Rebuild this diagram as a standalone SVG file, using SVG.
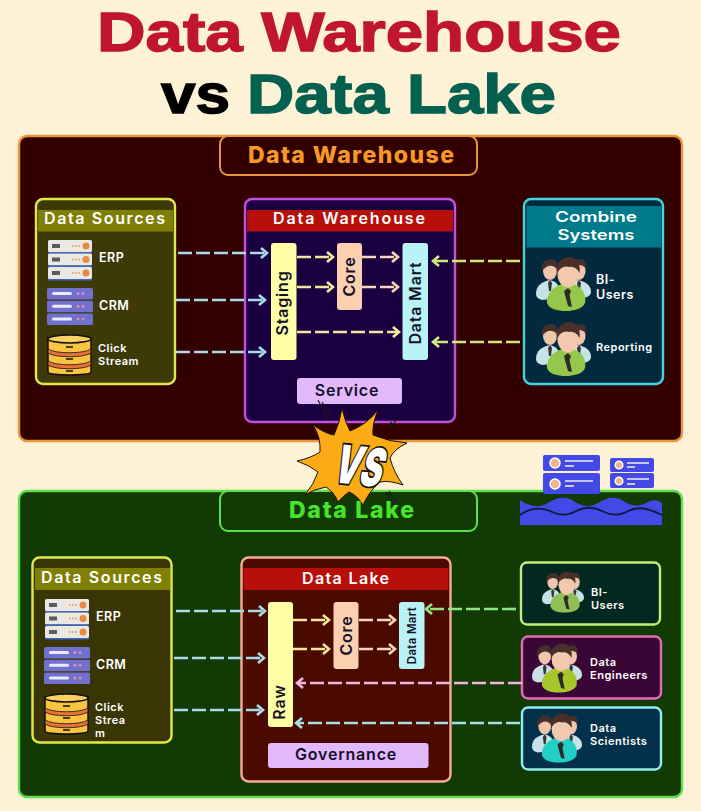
<svg xmlns="http://www.w3.org/2000/svg" width="701" height="811" viewBox="0 0 701 811">
<style>
text{font-family:"Inter","Liberation Sans",sans-serif;font-weight:600;fill:#fff}
.mid{text-anchor:middle}
.h{font-size:16px;letter-spacing:1px}
.h2{font-size:14.500px}
.sm{font-size:12.500px;letter-spacing:.5px}
.xs{font-size:11px;letter-spacing:.5px}
.dark{fill:#15102a;font-size:16px;letter-spacing:.8px}
.panelT{font-size:23px;font-weight:800}
.big{font-family:"Liberation Sans",Arial,sans-serif;font-size:55.500px;font-weight:700;stroke-width:1.400}
.c{fill:none;stroke-width:2.700;stroke-dasharray:14 4}
.star{fill:#fbab14;stroke:#1c1205;stroke-width:1}
.vs{font-size:52px;font-weight:900;fill:#fff;stroke:#111;stroke-width:3.500;paint-order:stroke}
.tip{fill:none;stroke-width:2.700}
</style>
<defs>
<marker id="mBlue" markerUnits="userSpaceOnUse" markerWidth="12" markerHeight="14" refX="10" refY="7" orient="auto"><path class="tip" d="M4 2L10 7L4 12" stroke="#a9dbe9"/></marker>
<marker id="mYel" markerUnits="userSpaceOnUse" markerWidth="12" markerHeight="14" refX="10" refY="7" orient="auto"><path class="tip" d="M4 2L10 7L4 12" stroke="#f6e79e"/></marker>
<marker id="mPea" markerUnits="userSpaceOnUse" markerWidth="12" markerHeight="14" refX="10" refY="7" orient="auto"><path class="tip" d="M4 2L10 7L4 12" stroke="#f8d6bb"/></marker>
<marker id="mGrn" markerUnits="userSpaceOnUse" markerWidth="12" markerHeight="14" refX="10" refY="7" orient="auto"><path class="tip" d="M4 2L10 7L4 12" stroke="#cfea7c"/></marker>
<marker id="mLime" markerUnits="userSpaceOnUse" markerWidth="12" markerHeight="14" refX="10" refY="7" orient="auto"><path class="tip" d="M4 2L10 7L4 12" stroke="#8fe683"/></marker>
<marker id="mPink" markerUnits="userSpaceOnUse" markerWidth="12" markerHeight="14" refX="10" refY="7" orient="auto"><path class="tip" d="M4 2L10 7L4 12" stroke="#eeb6dc"/></marker>
<marker id="mAqua" markerUnits="userSpaceOnUse" markerWidth="12" markerHeight="14" refX="10" refY="7" orient="auto"><path class="tip" d="M4 2L10 7L4 12" stroke="#a8e0e2"/></marker>
<symbol id="erp" viewBox="0 0 44 39" overflow="visible">
<g id="erpRow"><rect width="44" height="12" rx="1.500" fill="#e9e8e4"/><rect x="4" y="4" width="8" height="4" fill="#5b5b60"/><circle cx="38" cy="6" r="3.500" fill="#e98a3c"/><path d="M24 6h8" stroke="#e98a3c" stroke-width="1.500" stroke-dasharray="1.500 1.500"/><rect y="12" width="44" height="1.500" fill="#3a66c8"/></g>
<use href="#erpRow" y="13.500"/><use href="#erpRow" y="27"/>
</symbol>
<symbol id="crm" viewBox="0 0 46 37" overflow="visible">
<g id="crmRow"><rect width="46" height="11.500" rx="1.500" fill="#7070cf"/><rect x="5" y="4" width="20" height="3" rx="1.500" fill="#ecebff"/><circle cx="31" cy="5.500" r="1.500" fill="#d98fb0"/><circle cx="36" cy="5.500" r="1.500" fill="#d98fb0"/></g>
<use href="#crmRow" y="12.800"/><use href="#crmRow" y="25.600"/>
</symbol>
<symbol id="stack" viewBox="0 0 45 42" overflow="visible">
<path d="M1 4V38C1 42 44 42 44 38V4Z" fill="#fac440" stroke="#111" stroke-width="1.500"/>
<ellipse cx="22.500" cy="5" rx="21.500" ry="4" fill="#fad060" stroke="#111" stroke-width="1.500"/>
<path d="M1 15C8 20 37 20 44 15V19C37 24 8 24 1 19ZM1 27C8 32 37 32 44 27V31C37 36 8 36 1 31Z" fill="#e8713a" stroke="#111" stroke-width=".8"/>
<path d="M19 13h7M19 25h7M19 37h7" stroke="#111" stroke-width="1.500"/>
</symbol>
<symbol id="people" viewBox="0 0 55 54" overflow="visible">
<path d="M0 37C0 29 5 25 14 23C22 25 25 30 24 41L6 43C2 42 0 40 0 37Z" fill="#c6e2e6"/>
<ellipse cx="14" cy="14" rx="7" ry="9" fill="#efc6ac"/><path d="M6 14C4 4 12 2 15 2C21 2 23 8 21 12C16 7 11 8 6 14Z" fill="#43302b"/>
<path d="M14 23l2 3l-1 8h-2l-1-8Z" fill="#3b3330"/>
<path d="M55 35C55 28 50 25 42 23C36 25 32 30 33 41L48 41C52 40 55 38 55 35Z" fill="#c6e2e6"/>
<ellipse cx="43" cy="14" rx="6.500" ry="9" fill="#efc6ac"/><path d="M36 12C34 4 40 2 44 2C50 2 51 8 50 11C45 7 40 7 36 12Z" fill="#43302b"/>
<path d="M43 23l2 3l-1 7h-2l-1-7Z" fill="#3b3330"/>
<path d="M11 46C10 35 20 27 32 26C44 27 51 36 49 46C47 52 37 54 30 54C21 54 13 52 11 46Z" fill="currentColor"/>
<ellipse cx="32" cy="17" rx="10.500" ry="13.500" fill="#f3c9ae"/>
<path d="M21 17C19 5 27 0 33 0C41 0 45 7 43.500 16C41 11 37 9 33 10C29 8 23 11 21 17Z" fill="#4a3029"/>
<path d="M32 31l3 3l-1.500 4L36 50l-4 -1l-3 -11L28 34Z" fill="#2e2a28"/>
</symbol>
</defs>
<rect width="701" height="811" fill="#fdf1d6"/>
<g id="title">
<text class="big" x="97" y="50.500" style="fill:#c01530;stroke:#c01530" textLength="524" lengthAdjust="spacingAndGlyphs">Data Warehouse</text>
<text class="big" x="161" y="113" style="fill:#000;stroke:#000" textLength="69" lengthAdjust="spacingAndGlyphs">vs</text>
<text class="big" x="247" y="113" style="fill:#04604f;stroke:#04604f" textLength="309" lengthAdjust="spacingAndGlyphs">Data Lake</text>
</g>
<g id="warehouse-panel">
<rect x="19" y="136" width="663" height="305" rx="8" fill="#330000" stroke="#e8953c" stroke-width="2.400"/>
<rect x="220" y="136" width="257" height="39" rx="8" fill="#330000" stroke="#e8953c" stroke-width="2"/>
<text class="panelT" x="248" y="163" style="fill:#f79a25" textLength="206">Data Warehouse</text>
</g>
<g id="lake-panel">
<rect x="19" y="491" width="663" height="306" rx="8" fill="#123a05" stroke="#5fe04a" stroke-width="2.400"/>
<rect x="220" y="491" width="257" height="40" rx="8" fill="#123a05" stroke="#5fe04a" stroke-width="2"/>
</g>
<g id="dw-sources">
<rect x="36" y="199" width="139" height="185" rx="7" fill="#3d3a08" stroke="#e3e84a" stroke-width="2.400"/>
<rect x="38" y="210" width="135" height="21.500" fill="#7f7f05"/>
<text class="h" x="44" y="224" textLength="122">Data Sources</text>
<use href="#erp" x="48" y="240" width="44" height="39"/>
<text class="sm" x="99" y="262">ERP</text>
<use href="#crm" x="47" y="288" width="46" height="37"/>
<text class="sm" x="99" y="310">CRM</text>
<use href="#stack" x="47" y="334" width="45" height="42"/>
<text class="xs" x="98" y="352">Click</text>
<text class="xs" x="98" y="365">Stream</text>
</g>
<g id="dw-main">
<rect x="245" y="199" width="210" height="223" rx="7" fill="#1a0040" stroke="#c54fe0" stroke-width="2.400"/>
<rect x="247" y="210" width="206" height="21.500" fill="#b80f0a"/>
<text class="h" x="273" y="224" textLength="153">Data Warehouse</text>
</g>
<g id="dw-staging"><rect x="271" y="243" width="25.500" height="117" rx="3" fill="#ffffa5"/><text class="dark mid" transform="translate(288 303) rotate(-90)">Staging</text></g>
<g id="dw-core"><rect x="337" y="243" width="25" height="67" rx="3" fill="#fbd0b0"/><text class="dark mid" transform="translate(355 276.500) rotate(-90)">Core</text></g>
<g id="dw-mart"><rect x="402.500" y="243" width="25.500" height="117" rx="3" fill="#b8f4f6"/><text class="dark mid" transform="translate(421 303) rotate(-90)">Data Mart</text></g>
<g id="dw-service"><rect x="297" y="378" width="105" height="26" rx="3" fill="#e2b9fa"/><text class="dark mid" x="347" y="396">Service</text></g>
<g id="dw-consumers">
<rect x="524" y="199" width="139" height="185" rx="7" fill="#02293d" stroke="#3fd6dc" stroke-width="2.400"/>
<rect x="526.500" y="206" width="134.500" height="41.500" fill="#007a8a"/>
<text class="h2" x="555" y="222" textLength="82" lengthAdjust="spacingAndGlyphs">Combine</text>
<text class="h2" x="557.500" y="240" textLength="77" lengthAdjust="spacingAndGlyphs">Systems</text>
<use href="#people" x="536" y="257" width="55" height="54" color="#95c74a"/>
<text class="sm" x="596" y="284">BI-</text>
<text class="sm" x="596" y="299">Users</text>
<use href="#people" x="536" y="322" width="55" height="54" color="#95c74a"/>
<text class="xs" x="596" y="351">Reporting</text>
</g>
<g id="dl-sources">
<rect x="32.500" y="557.500" width="139" height="185" rx="7" fill="#3a3505" stroke="#e3e84a" stroke-width="2.400"/>
<rect x="35" y="568" width="135" height="22" fill="#7f7f05"/>
<text class="h" x="41" y="583" textLength="122">Data Sources</text>
<use href="#erp" x="45" y="599" width="44" height="39"/>
<text class="sm" x="96" y="621">ERP</text>
<use href="#crm" x="44" y="647" width="46" height="37"/>
<text class="sm" x="96" y="669">CRM</text>
<use href="#stack" x="44" y="693" width="45" height="42"/>
<text class="xs" x="95" y="711">Click</text>
<text class="xs" x="95" y="724">Strea</text>
<text class="xs" x="95" y="737">m</text>
</g>
<g id="dl-main">
<rect x="241.500" y="557.500" width="209" height="224" rx="7" fill="#4a0a00" stroke="#f5ad96" stroke-width="2.400"/>
<rect x="243.500" y="568" width="205" height="22" fill="#b80f0a"/>
<text class="h" x="302" y="584" textLength="88">Data Lake</text>
</g>
<g id="dl-raw"><rect x="268" y="602" width="25" height="125" rx="3" fill="#ffffa5"/><text class="dark mid" transform="translate(285 702) rotate(-90)">Raw</text></g>
<g id="dl-core"><rect x="333.500" y="602" width="25" height="67" rx="3" fill="#fbd0b0"/><text class="dark mid" transform="translate(351.500 635.500) rotate(-90)">Core</text></g>
<g id="dl-mart"><rect x="399" y="602" width="25.500" height="67" rx="3" fill="#b8f4f6"/><text class="dark mid" transform="translate(416 635.500) rotate(-90)" style="font-size:11.500px;letter-spacing:.3px">Data Mart</text></g>
<g id="dl-governance"><rect x="268" y="743" width="160.500" height="25" rx="3" fill="#e2b9fa"/><text class="dark mid" x="346" y="760">Governance</text></g>
<g id="dl-bi"><rect x="521" y="562.500" width="139" height="62" rx="6" fill="#02291f" stroke="#c3ee7a" stroke-width="2.400"/>
<use href="#people" x="542" y="570" width="42" height="44" color="#8fbf55"/>
<text class="xs" x="591" y="596">BI-</text><text class="xs" x="591" y="609">Users</text></g>
<g id="dl-engineers"><rect x="522" y="636.500" width="139" height="62" rx="6" fill="#3a0636" stroke="#e46cb4" stroke-width="2.400"/>
<use href="#people" x="532" y="641" width="50" height="54" color="#a6c62a"/>
<text class="xs" x="590" y="666">Data</text><text class="xs" x="590" y="679">Engineers</text></g>
<g id="dl-scientists"><rect x="522" y="707.500" width="139" height="62" rx="6" fill="#03304a" stroke="#90f0f0" stroke-width="2.400"/>
<use href="#people" x="532" y="711" width="50" height="54" color="#22cfc6"/>
<text class="xs" x="590" y="732">Data</text><text class="xs" x="590" y="745">Scientists</text></g>
<g id="connectors">
<g stroke="#a9dbe9">
<path class="c" d="M178 253H267" marker-end="url(#mBlue)"/>
<path class="c" d="M176 300H265" marker-end="url(#mBlue)"/>
<path class="c" d="M176 352H265" marker-end="url(#mBlue)"/>
<path class="c" d="M176 611H265" marker-end="url(#mBlue)"/>
<path class="c" d="M174 658H264" marker-end="url(#mBlue)"/>
<path class="c" d="M174 710H263" marker-end="url(#mBlue)"/>
</g>
<g stroke="#f6e79e">
<path class="c" d="M297 257H333" marker-end="url(#mYel)"/>
<path class="c" d="M297 287H333" marker-end="url(#mYel)"/>
<path class="c" d="M297 332H399" marker-end="url(#mYel)"/>
<path class="c" d="M293 620H329" marker-end="url(#mYel)"/>
<path class="c" d="M293 649H329" marker-end="url(#mYel)"/>
</g>
<g stroke="#f8d6bb">
<path class="c" d="M362 257H398" marker-end="url(#mPea)"/>
<path class="c" d="M362 287H398" marker-end="url(#mPea)"/>
<path class="c" d="M359 620H395" marker-end="url(#mPea)"/>
<path class="c" d="M359 649H395" marker-end="url(#mPea)"/>
</g>
<g stroke="#cfea7c">
<path class="c" d="M520 261H433" marker-end="url(#mGrn)"/>
<path class="c" d="M520 342H433" marker-end="url(#mGrn)"/>
</g>
<path class="c" stroke="#8fe683" d="M516 609H426" marker-end="url(#mLime)"/>
<path class="c" stroke="#eeb6dc" d="M522 683H297" marker-end="url(#mPink)"/>
<path class="c" stroke="#a8e0e2" d="M520 723H296" marker-end="url(#mAqua)"/>
</g>
<g id="lake-icon">
<rect x="543" y="455" width="57" height="16" rx="2" fill="#4349e6"/><rect x="543" y="473" width="57" height="21" rx="2" fill="#4349e6"/>
<rect x="610" y="458" width="44" height="14" rx="2" fill="#4349e6"/><rect x="610" y="473" width="44" height="15" rx="2" fill="#4349e6"/>
<g fill="#f0b48c" stroke="#fff" stroke-width="1.500"><circle cx="555" cy="463" r="5"/><circle cx="555" cy="484" r="5"/><circle cx="619" cy="465" r="3.800"/><circle cx="619" cy="481" r="3.800"/></g>
<path d="M565 461h28M565 466h9M565 481h28M565 486h9M627 463h22M627 467h8M627 479h22M627 484h8" stroke="#f4f0ea" stroke-width="1.500"/>
<path d="M520 500C530 507 540 508 548 503C556 498 564 496 572 500C582 507 590 508 598 503C606 498 614 496 622 500C632 507 640 507 648 502C654 499 658 500 662 503V525H520Z" fill="#4349e6"/>
<path d="M520 515C530 508 540 507 550 511C560 516 568 516 576 511C586 506 594 507 602 511C612 516 620 516 628 511C638 506 648 508 662 515" fill="none" stroke="#0e1a3a" stroke-width="1.800"/>
</g>
<g id="vs-badge">
<path class="star" d="M342 408Q345 422 350 431Q366 425 378 410Q372 424 373 435Q390 442 407 443Q394 449 390 458Q394 473 403 485Q389 480 380 482Q370 490 363 505Q357 495 349 492Q342 497 338 502Q334 492 326 487Q314 489 305 495Q314 484 318 472Q309 465 297 461Q311 458 320 452Q321 437 313 425Q326 434 334 435Q340 422 342 408Z"/>
<path d="M318 400L328 420M322 402L331 418M397 419L390 429M392 422L387 427M386 492L394 505M389 491L397 503" stroke="#1a1a1a" stroke-width="1.200" fill="none"/>
<text class="vs" transform="translate(331 482) skewX(-12) rotate(6)" textLength="49" lengthAdjust="spacingAndGlyphs">VS</text>
</g>
<g id="lake-title"><text class="panelT" x="289" y="518" style="fill:#45e52a" textLength="125">Data Lake</text></g>
</svg>
